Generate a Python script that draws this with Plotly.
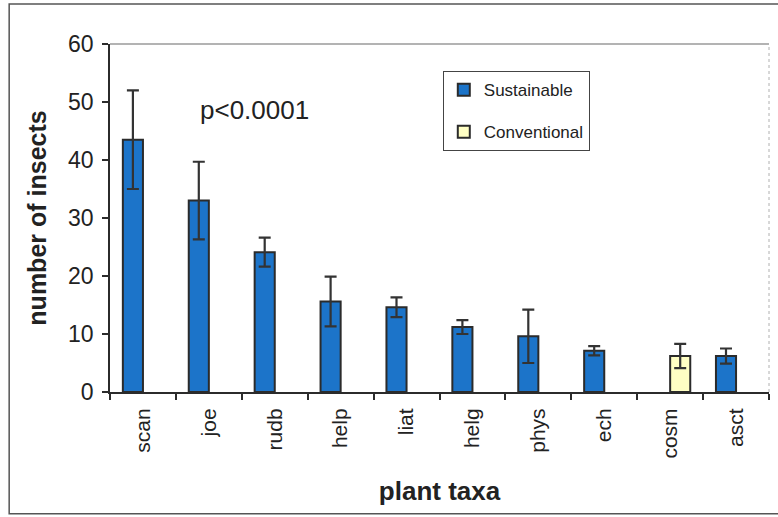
import plotly.graph_objects as go

# Insect counts per plant taxon (mean with symmetric error)
taxa = ["scan", "joe", "rudb", "help", "liat", "helg", "phys", "ech", "cosm", "asct"]
sustainable = [43.5, 33.0, 24.1, 15.6, 14.6, 11.2, 9.6, 7.1, None, 6.2]
sustainable_err = [8.5, 6.7, 2.5, 4.3, 1.7, 1.2, 4.6, 0.8, None, 1.3]
conventional = [None, None, None, None, None, None, None, None, 6.2, None]
conventional_err = [None, None, None, None, None, None, None, None, 2.1, None]
y_ticks = [0, 10, 20, 30, 40, 50, 60]

FONT = "Liberation Sans, Arial, sans-serif"
INK = "#222222"
EDGE = "#2b2b2b"

fig = go.Figure()
fig.add_trace(go.Bar(
    name="Sustainable", x=taxa, y=sustainable,
    marker=dict(color="#1c74c9", line=dict(color=EDGE, width=2)),
    error_y=dict(type="data", array=sustainable_err, visible=True,
                 color="#333333", thickness=2.2, width=6),
    legendgroup="s",
))
fig.add_trace(go.Bar(
    name="Conventional", x=taxa, y=conventional,
    marker=dict(color="#ffffc4", line=dict(color=EDGE, width=2)),
    error_y=dict(type="data", array=conventional_err, visible=True,
                 color="#333333", thickness=2.2, width=6),
    legendgroup="c",
))

fig.update_layout(
    width=778, height=517,
    margin=dict(l=110, r=9, t=44, b=125),
    paper_bgcolor="white", plot_bgcolor="white",
    barmode="group", bargap=0.39, bargroupgap=0.0,
    font=dict(family=FONT, color=INK),
    showlegend=True,
    legend=dict(
        x=0.505, y=0.922, xanchor="left", yanchor="top",
        bordercolor="#444444", borderwidth=1, bgcolor="white",
        font=dict(size=17, family=FONT, color=INK),
        tracegroupgap=17, itemsizing="constant", itemwidth=30,
    ),
    xaxis=dict(
        type="category", tickson="boundaries",
        ticks="outside", ticklen=6, tickcolor=EDGE, tickwidth=1.5,
        tickangle=-90, tickfont=dict(size=21, family=FONT, color=INK),
        ticklabelstandoff=6,
        showline=True, linecolor=EDGE, linewidth=2,
        showgrid=False, zeroline=False,
        title=dict(text="<b>plant taxa</b>", font=dict(size=26, family=FONT, color=INK), standoff=24),
    ),
    yaxis=dict(
        range=[0, 60], tickvals=y_ticks,
        ticks="outside", ticklen=6, tickcolor=EDGE, tickwidth=1.5,
        tickfont=dict(size=23, family=FONT, color=INK),
        ticklabelstandoff=4,
        showline=True, linecolor=EDGE, linewidth=1.5,
        showgrid=False, zeroline=False,
        title=dict(text="<b>number of insects</b>", font=dict(size=25, family=FONT, color=INK), standoff=14),
    ),
    annotations=[dict(
        text="p<0.0001", xref="paper", yref="paper", x=0.22, y=0.81,
        xanchor="center", yanchor="middle", showarrow=False,
        font=dict(size=26, family=FONT, color=INK),
    )],
    shapes=[
        # outer frame
        dict(type="rect", xref="paper", yref="paper",
             x0=-0.153, x1=1.03, y0=-0.35, y1=1.115,
             line=dict(color="#555555", width=1.5)),
        # top edge of plot area
        dict(type="line", xref="paper", yref="paper", x0=0, x1=1, y0=1, y1=1,
             line=dict(color="#9a9a9a", width=1.5)),
        # right edge of plot area
        dict(type="line", xref="paper", yref="paper", x0=1, x1=1, y0=0, y1=1,
             line=dict(color="#b0b0b0", width=1, dash="dot")),
    ],
)

fig.write_html("out.html")
